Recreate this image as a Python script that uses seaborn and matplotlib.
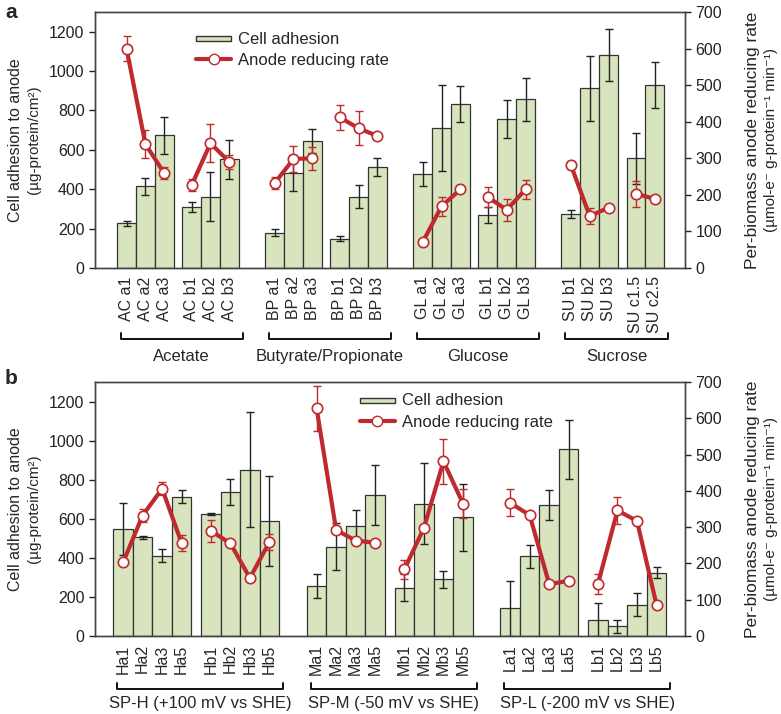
import numpy as np
import pandas as pd
import seaborn as sns
import matplotlib.pyplot as plt
from matplotlib.patches import Patch, Rectangle
from matplotlib.lines import Line2D
from matplotlib.legend_handler import HandlerPatch

sns.set_style('ticks')
plt.rcParams['font.family'] = ['Liberation Sans', 'DejaVu Sans']

BAR_GREEN = '#d7e4bd'
RATE_RED = '#bf2a2e'
EDGE = '#333333'

# ---- panel a: substrates
a_labels = ['AC a1', 'AC a2', 'AC a3', 'AC b1', 'AC b2', 'AC b3',
            'BP a1', 'BP a2', 'BP a3', 'BP b1', 'BP b2', 'BP b3',
            'GL a1', 'GL a2', 'GL a3', 'GL b1', 'GL b2', 'GL b3',
            'SU b1', 'SU b2', 'SU b3', 'SU c1.5', 'SU c2.5']
a_subgroup = ['AC a'] * 3 + ['AC b'] * 3 + ['BP a'] * 3 + ['BP b'] * 3 + \
             ['GL a'] * 3 + ['GL b'] * 3 + ['SU b'] * 3 + ['SU c'] * 2
a_group = ['Acetate'] * 6 + ['Butyrate/Propionate'] * 6 + ['Glucose'] * 6 + ['Sucrose'] * 5
a_adhesion = [227, 414, 673, 310, 362, 552, 178, 483, 646, 148, 362, 514,
              477, 713, 832, 268, 756, 857, 273, 913, 1082, 558, 931]
a_adhesion_err = [12, 42, 92, 25, 125, 100, 18, 90, 60, 12, 57, 45,
                  60, 218, 93, 42, 97, 108, 20, 165, 130, 130, 116]
a_rate = [600, 339, 259, 226, 341, 290, 232, 298, 300, 412, 382, 361,
          71, 169, 215, 194, 159, 215, 282, 142, 165, 203, 189]
a_rate_err = [34, 38, 16, 16, 52, 18, 16, 36, 32, 34, 47, 7,
              4, 26, 4, 27, 30, 26, 11, 22, 4, 35, 4]

# ---- panel b: set potentials
b_labels = ['Ha1', 'Ha2', 'Ha3', 'Ha5', 'Hb1', 'Hb2', 'Hb3', 'Hb5',
            'Ma1', 'Ma2', 'Ma3', 'Ma5', 'Mb1', 'Mb2', 'Mb3', 'Mb5',
            'La1', 'La2', 'La3', 'La5', 'Lb1', 'Lb2', 'Lb3', 'Lb5']
b_subgroup = [l[:2] for l in b_labels]
b_group = ['SP-H (+100 mV vs SHE)'] * 8 + ['SP-M (-50 mV vs SHE)'] * 8 + ['SP-L (-200 mV vs SHE)'] * 8
b_adhesion = [548, 505, 411, 713, 624, 737, 852, 588, 256, 458, 564, 722,
              248, 678, 290, 608, 142, 407, 670, 955, 84, 50, 160, 323]
b_adhesion_err = [132, 8, 33, 34, 7, 67, 292, 230, 59, 122, 82, 155,
                  68, 208, 45, 172, 142, 58, 77, 153, 83, 34, 60, 28]
b_rate = [203, 332, 406, 256, 290, 255, 160, 259, 627, 292, 263, 257,
          184, 298, 481, 365, 367, 333, 143, 152, 144, 346, 317, 86]
b_rate_err = [4, 18, 18, 23, 30, 4, 4, 21, 63, 4, 4, 8,
              26, 4, 62, 40, 37, 4, 4, 4, 27, 37, 4, 4]

W, H = 781, 714


def positions(groups, subgroups, sub_step, group_step):
    pos = [0.0]
    for i in range(1, len(groups)):
        if groups[i] != groups[i - 1]:
            step = group_step
        elif subgroups[i] != subgroups[i - 1]:
            step = sub_step
        else:
            step = 1.0
        pos.append(pos[-1] + step)
    return pos


def flat_rect(legend, orig_handle, xdescent, ydescent, width, height, fontsize):
    return Rectangle((-xdescent, -ydescent + height * 0.22), width, height * 0.42)


def draw_panel(fig, top, bottom, df, xlim, leg_xy, bracket_y, glabel_y):
    ax = fig.add_axes([95 / W, 1 - bottom / H, 590 / W, (bottom - top) / H])
    sns.barplot(data=df, x='pos', y='adhesion', native_scale=True, width=1,
                color=BAR_GREEN, edgecolor=EDGE, linewidth=0.9, saturation=1,
                errorbar=None, ax=ax)
    ax.errorbar(df['pos'], df['adhesion'], yerr=df['adhesion_err'], fmt='none',
                ecolor='#222222', elinewidth=1, capsize=3, capthick=1)
    ax.set_ylim(0, 1300)
    ax.set_xlim(*xlim)
    ax.set_yticks(range(0, 1201, 200))
    ax.set_xticks(df['pos'], df['label'], rotation=90)
    ax.tick_params(axis='x', length=0, pad=6, labelsize=11.5)
    ax.tick_params(axis='y', length=4, width=1, labelsize=11.5, colors='#222222')
    ax.set_xlabel('')
    ax.set_ylabel('')

    ax2 = ax.twinx()
    ax2.errorbar(df['pos'], df['rate'], yerr=df['rate_err'], fmt='none',
                 ecolor=RATE_RED, elinewidth=1, capsize=3, capthick=1, zorder=1)
    sns.lineplot(data=df, x='pos', y='rate', units='subgroup', estimator=None,
                 color=RATE_RED, linewidth=3, marker='o', markersize=7.5,
                 markerfacecolor='white', markeredgecolor=RATE_RED,
                 markeredgewidth=1.2, legend=False, zorder=3, ax=ax2)
    ax2.set_ylim(0, 700)
    ax2.set_xlim(*xlim)
    ax2.set_yticks(range(0, 701, 100))
    ax2.tick_params(axis='y', length=4, width=1, labelsize=11.5, colors='#222222')
    ax2.set_xlabel('')
    ax2.set_ylabel('')
    for a in (ax, ax2):
        for s in a.spines.values():
            s.set_color('#444444')
            s.set_linewidth(1)

    handles = [Patch(facecolor=BAR_GREEN, edgecolor=EDGE, linewidth=1),
               Line2D([], [], color=RATE_RED, linewidth=3, marker='o', markersize=7.5,
                      markerfacecolor='white', markeredgecolor=RATE_RED)]
    ax2.legend(handles, ['Cell adhesion', 'Anode reducing rate'], loc='upper left',
               bbox_to_anchor=leg_xy, frameon=False, fontsize=12, handlelength=2.1,
               handletextpad=0.4, borderpad=0, borderaxespad=0, labelspacing=0.38,
               handler_map={Patch: HandlerPatch(patch_func=flat_rect)})

    # brackets with group names under the tick labels
    tr = ax.get_xaxis_transform()
    for g in df['group'].unique():
        p = df.loc[df['group'] == g, 'pos']
        x0, x1 = p.min() - 0.3, p.max() + 0.7
        ax.plot([x0, x0, x1, x1], [bracket_y + 0.022, bracket_y, bracket_y, bracket_y + 0.022],
                color='#111111', linewidth=1.4, transform=tr, clip_on=False)
        ax.text((x0 + x1) / 2, glabel_y, g, transform=tr, ha='center', va='center', fontsize=12)
    return ax, ax2


df_a = pd.DataFrame({'label': a_labels, 'subgroup': a_subgroup, 'group': a_group,
                     'adhesion': a_adhesion, 'adhesion_err': a_adhesion_err,
                     'rate': a_rate, 'rate_err': a_rate_err})
df_a['pos'] = positions(a_group, a_subgroup, 1.45, 2.4)
df_b = pd.DataFrame({'label': b_labels, 'subgroup': b_subgroup, 'group': b_group,
                     'adhesion': b_adhesion, 'adhesion_err': b_adhesion_err,
                     'rate': b_rate, 'rate_err': b_rate_err})
df_b['pos'] = positions(b_group, b_subgroup, 1.5, 2.42)

fig = plt.figure(figsize=(W / 100, H / 100), dpi=100)

draw_panel(fig, 12, 268, df_a, (-1.67, 29.6), (0.172, 0.923), -0.277, -0.345)
draw_panel(fig, 382, 636, df_b, (-1.44, 28.8), (0.449, 0.956), -0.207, -0.265)

# panel letters and axis titles
for letter, y in (('a', 12), ('b', 378)):
    fig.text(5 / W, 1 - y / H, letter, fontsize=15, fontweight='bold', va='center', ha='left')
for top, bottom in ((12, 268), (382, 636)):
    yc = 1 - (top + bottom) / 2 / H
    fig.text(16 / W, yc, 'Cell adhesion to anode', rotation=90, fontsize=11.5, ha='center', va='center')
    fig.text(34 / W, yc, '(µg-protein/cm²)', rotation=90, fontsize=11, ha='center', va='center')
    fig.text(753 / W, yc, 'Per-biomass anode reducing rate', rotation=90, fontsize=12.5,
             ha='center', va='center')
    fig.text(771 / W, yc, '(µmol-e⁻ g-protein⁻¹ min⁻¹)', rotation=90, fontsize=11,
             ha='center', va='center')

fig.savefig('out.png', dpi=100)
